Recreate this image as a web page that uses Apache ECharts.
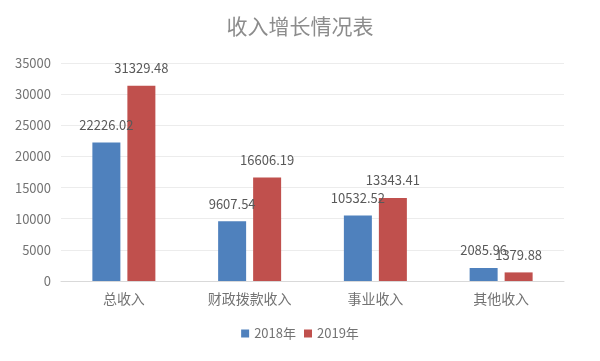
<!DOCTYPE html>
<html><head><meta charset="utf-8">
<script src="https://cdn.jsdelivr.net/npm/echarts@6/dist/echarts.min.js"></script>
<style>html,body{margin:0;padding:0;background:#fff}#c{width:600px;height:361px}</style>
</head><body><div id="c"></div>
<script>
var categories = ['总收入', '财政拨款收入', '事业收入', '其他收入'];
var values2018 = [22226.02, 9607.54, 10532.52, 2085.96];
var values2019 = [31329.48, 16606.19, 13343.41, 1379.88];
var seriesNames = ['2018年', '2019年'];
var yTicks = [0, 5000, 10000, 15000, 20000, 25000, 30000, 35000];

var font = '"Noto Sans CJK SC", "Microsoft YaHei", sans-serif';
var chart = echarts.init(document.getElementById('c'));
var label = {
  show: true, position: 'top', distance: 11,
  color: '#595959', fontSize: 13, fontFamily: font,
  formatter: function (p) { return p.value.toFixed(2); }
};
chart.setOption({
  animation: false,
  title: {
    text: '收入增长情况表', left: 'center', top: 11,
    textStyle: { color: '#8c8c8c', fontSize: 21, fontWeight: 'normal', fontFamily: font }
  },
  legend: {
    data: seriesNames, bottom: 16, left: 'center',
    itemWidth: 8, itemHeight: 8, itemGap: 8, icon: 'rect',
    textStyle: { color: '#737373', fontSize: 13, fontFamily: font }
  },
  grid: { left: 61, right: 36, top: 63, bottom: 80 },
  xAxis: {
    type: 'category', data: categories,
    axisLine: { lineStyle: { color: '#d9d9d9' } },
    axisTick: { show: false },
    axisLabel: { color: '#737373', fontSize: 14, margin: 11, fontFamily: font }
  },
  yAxis: {
    type: 'value', min: yTicks[0], max: yTicks[yTicks.length - 1], interval: 5000,
    axisLine: { show: false }, axisTick: { show: false },
    splitLine: { lineStyle: { color: '#ececec' } },
    axisLabel: { color: '#737373', fontSize: 13, margin: 10, fontFamily: font,
      formatter: function (v) { return String(v); } }
  },
  series: [
    { name: seriesNames[0], type: 'bar', data: values2018, barWidth: 28, barGap: '25%',
      itemStyle: { color: '#4f81bd' }, label: label },
    { name: seriesNames[1], type: 'bar', data: values2019, barWidth: 28,
      itemStyle: { color: '#c0504d' }, label: label }
  ]
});
</script></body></html>
